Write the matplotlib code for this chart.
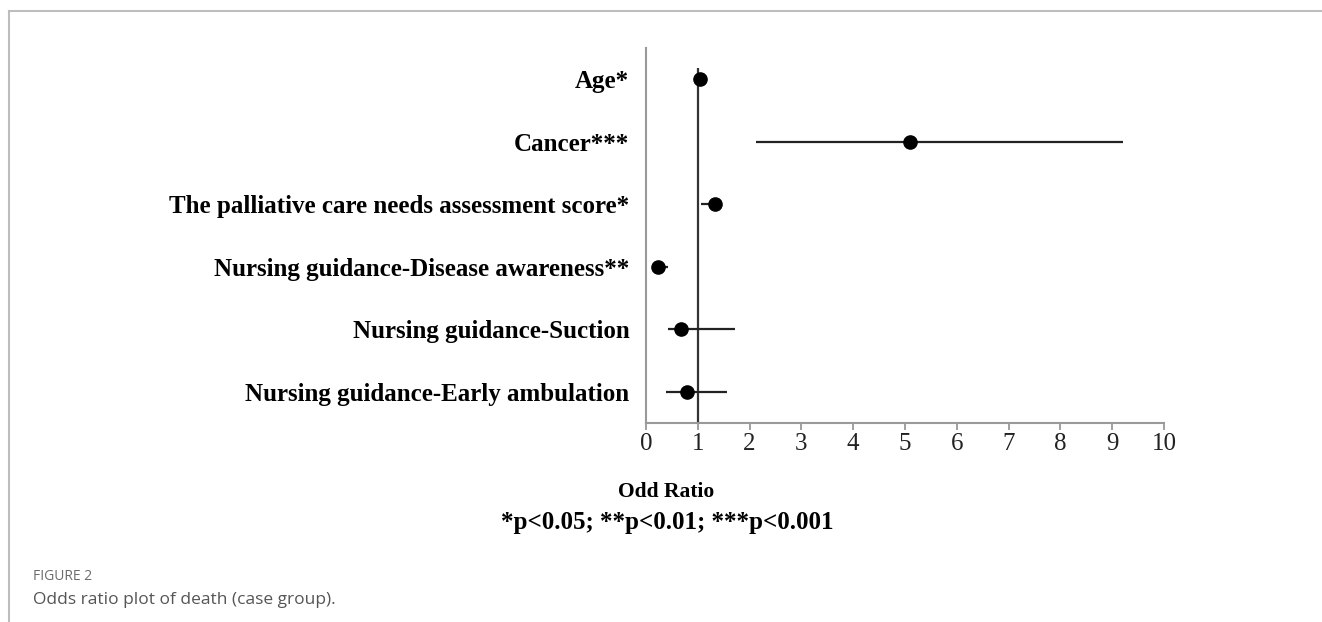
import matplotlib
matplotlib.use('Agg')
import matplotlib.pyplot as plt
from matplotlib.lines import Line2D

# odds ratios with 95% CI (top row first)
labels = ['Age*', 'Cancer***', 'The palliative care needs assessment score*',
          'Nursing guidance-Disease awareness**', 'Nursing guidance-Suction',
          'Nursing guidance-Early ambulation']
odds = [1.04, 5.1, 1.33, 0.23, 0.67, 0.79]
lower = [1.0, 2.12, 1.06, 0.12, 0.43, 0.39]
upper = [1.1, 9.2, 1.45, 0.42, 1.71, 1.56]
xticks = [0, 1, 2, 3, 4, 5, 6, 7, 8, 9, 10]

serif = ['Liberation Serif', 'DejaVu Serif']

fig = plt.figure(figsize=(13.22, 6.22), dpi=100)

# outer frame (top and left edges only)
fig.add_artist(Line2D([9/1322, 1], [1-11/622, 1-11/622], color='#bdbdbd', lw=1.5))
fig.add_artist(Line2D([9/1322, 9/1322], [0, 1-11/622], color='#bdbdbd', lw=1.5))

ax = fig.add_axes([646/1322, 1-423/622, 518/1322, 375/622])

n = len(labels)
ypos = list(range(n, 0, -1))
xerr = [[o - l for o, l in zip(odds, lower)], [u - o for o, u in zip(odds, upper)]]

ax.vlines(1, 0.5, 6.18, color='#333333', lw=1.6, zorder=1)
ax.errorbar(odds, ypos, xerr=xerr, fmt='o', color='black', ecolor='#222222',
            elinewidth=1.6, capsize=0, markersize=9.5, zorder=3)

ax.set_xlim(0, 10)
ax.set_ylim(0.5, n + 0.5)
ax.set_xticks(xticks)
ax.set_xticklabels([str(t) for t in xticks], fontfamily=serif, fontsize=18, color='#222222')
ax.set_yticks(ypos)
ax.set_yticklabels(labels, fontfamily=serif, fontsize=18, fontweight='bold', color='black')

for s in ['top', 'right']:
    ax.spines[s].set_visible(False)
for s in ['left', 'bottom']:
    ax.spines[s].set_color('#999999')
    ax.spines[s].set_linewidth(1.5)
ax.tick_params(axis='y', length=0, pad=12)
ax.tick_params(axis='x', length=5, width=1.3, color='#999999', pad=2)

fig.text(666/1322, 1-492/622, 'Odd Ratio', ha='center', va='center',
         fontfamily=serif, fontweight='bold', fontsize=15.5)
fig.text(667/1322, 1-522/622, '*p<0.05; **p<0.01; ***p<0.001', ha='center', va='center',
         fontfamily=serif, fontweight='bold', fontsize=18)

# caption
fig.text(33/1322, 1-577/622, 'FIGURE 2', ha='left', va='center',
         fontfamily='Open Sans', fontsize=10, color='#6b6b6b')
fig.text(33/1322, 1-600/622, 'Odds ratio plot of death (case group).', ha='left', va='center',
         fontfamily='Open Sans', fontsize=12.5, color='#555555')

fig.savefig('out.png', dpi=100)
